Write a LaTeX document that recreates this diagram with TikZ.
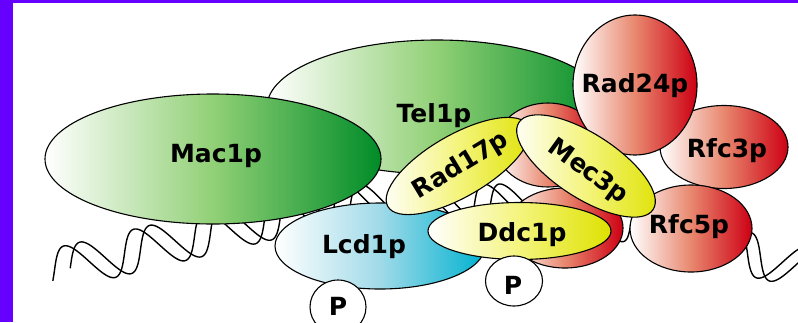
\documentclass[tikz,border=0pt]{standalone}
\usepackage{fontspec}
\setmainfont{DejaVu Sans}
\usetikzlibrary{shapes.geometric}

\definecolor{frame}{RGB}{102,0,255}
\definecolor{grnmid}{RGB}{145,208,118}
\definecolor{grndark}{RGB}{0,140,40}
\definecolor{redmid}{RGB}{232,135,110}
\definecolor{reddark}{RGB}{205,0,20}
\definecolor{yelmid}{RGB}{244,244,125}
\definecolor{yeldark}{RGB}{222,226,0}
\definecolor{cyamid}{RGB}{160,218,232}
\definecolor{cyadark}{RGB}{0,178,208}

\newcommand\protlabelfont{\fontsize{25}{27}\selectfont\bfseries}

\begin{document}
\begin{tikzpicture}[x=1pt, y=-1pt,
  protein/.style={ellipse, draw=black, line width=1.1pt, inner sep=0pt},
  greenprot/.style={protein, left color=white, right color=grndark, middle color=grnmid},
  redprot/.style={protein, left color=white, right color=reddark, middle color=redmid},
  yelprot/.style={protein, left color=white, right color=yeldark, middle color=yelmid},
  cyanprot/.style={protein, left color=white, right color=cyadark, middle color=cyamid},
  phospho/.style={protein, fill=white},
  lbl/.style={font=\protlabelfont, text=black, inner sep=0pt, anchor=base},
  strand/.style={draw=black, line width=1.4pt, line join=round},
  declare function={axy(\x)=204+0.24*max(0,330-\x)+0.24*max(0,\x-540);}
]
\useasboundingbox (0,0) rectangle (798,322);
\fill[white] (0,0) rectangle (798,322);

% frame bands
\fill[frame] (0,0) rectangle (798,3);
\fill[frame] (0,0) rectangle (13,322);

% DNA double strand: left run leans one way, right run the other
\draw[strand] plot[domain=-118:3230, samples=700, variable=\t]
  ({72+0.19444*\t-8*cos(\t)}, {axy(72+0.19444*\t)-20*cos(\t)});
\draw[strand] plot[domain=-95:3160, samples=700, variable=\t]
  ({88+0.19444*\t-8*cos(\t)}, {axy(88+0.19444*\t)-20*cos(\t)});
\draw[strand] plot[domain=90:740, samples=160, variable=\t]
  ({660+0.19444*\t+8*cos(\t)}, {axy(660+0.19444*\t)-20*cos(\t)});
\draw[strand] plot[domain=60:720, samples=160, variable=\t]
  ({673+0.19444*\t+8*cos(\t)}, {axy(673+0.19444*\t)-20*cos(\t)});

% proteins, back to front
\node[greenprot, minimum width=340pt, minimum height=134pt] (tel) at (437,107) {};
\node[greenprot, minimum width=336pt, minimum height=130pt] (mac) at (213,159) {};
\node[cyanprot, minimum width=210pt, minimum height=86pt] (lcd) at (380,246) {};
\node[redprot, minimum width=104pt, minimum height=84pt] (redtop) at (548,145) {};
\node[redprot, minimum width=116pt, minimum height=80pt] (redlow) at (565,228) {};
\node[redprot, minimum width=128pt, minimum height=83pt] (rfc3) at (724,147) {};
\node[redprot, minimum width=124pt, minimum height=140pt] (rad24) at (635,85) {};
\node[redprot, minimum width=122pt, minimum height=87pt] (rfc5) at (691,228.5) {};
\node[yelprot, minimum width=162pt, minimum height=62pt, rotate=30] (rad17) at (458,166) {};
\node[yelprot, minimum width=160pt, minimum height=64pt, rotate=-33] (mec3) at (586,166) {};
\node[yelprot, minimum width=183pt, minimum height=57pt] (ddc1) at (519.5,231) {};
\node[phospho, minimum width=56pt, minimum height=54pt] (p1) at (338,307) {};
\node[phospho, minimum width=57pt, minimum height=50pt] (p2) at (514,281) {};

% labels
\node[lbl] (tmac) at (216,162) {Mac1p};
\node[lbl] (ttel) at (434,122) {Tel1p};
\node[lbl] (trad24) at (635,92) {Rad24p};
\node[lbl] (trfc3) at (727,157) {Rfc3p};
\node[lbl] (trfc5) at (689,233) {Rfc5p};
\node[lbl] (tddc1) at (522,241) {Ddc1p};
\node[lbl] (tlcd) at (364,253) {Lcd1p};
\node[lbl, anchor=center, rotate=31] (trad17) at (461,166) {Rad17p};
\node[lbl, anchor=center, rotate=-36] (tmec3) at (588,172) {Mec3p};
\node[lbl] (tp1) at (338,315) {P};
\node[lbl] (tp2) at (513,294) {P};
\end{tikzpicture}
\end{document}
